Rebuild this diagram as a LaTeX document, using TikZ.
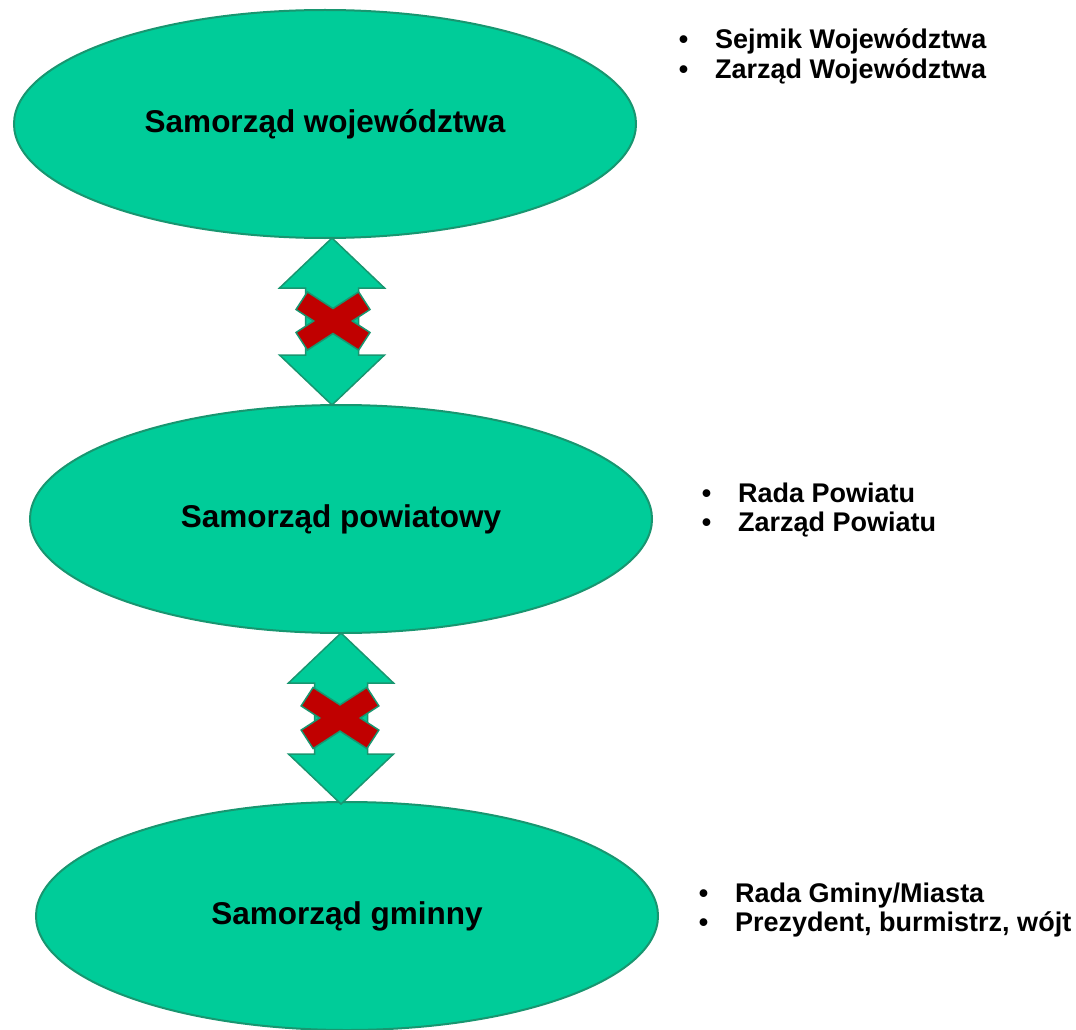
\documentclass[tikz,border=0pt]{standalone}
\usepackage{fontspec}
\setmainfont{Liberation Sans}
\usetikzlibrary{shapes.geometric,calc}
\definecolor{morski}{RGB}{0,204,153}
\definecolor{obrys}{RGB}{24,150,112}
\definecolor{krzyz}{RGB}{192,0,0}
\tikzset{x=1pt,y=-1pt,
  poziom/.style={ellipse,draw=obrys,line width=2pt,fill=morski,minimum width=622pt,minimum height=228pt,inner sep=0pt,font=\fontsize{31.5}{36}\selectfont\bfseries},
  organ/.style={anchor=base west,inner sep=0pt,font=\fontsize{27}{31}\selectfont\bfseries},
  strzalka/.style={draw=obrys,line width=1.5pt,fill=morski,line join=miter},
  zakaz/.style={draw=obrys,line width=1.5pt,fill=krzyz,line join=miter}}
\newcommand{\pkt}{\llap{\textbullet\hspace{27pt}}}
\newcommand{\dwustronna}[2]{%
  \draw[strzalka] (#1) -- ++(52.5,50) -- ++(-26,0) -- ($(#2)+(26.5,-50)$) -- ++(26,0) -- (#2)
    -- ++(-52.5,-50) -- ++(26,0) -- ($(#1)+(-26.5,50)$) -- ++(-26,0) -- cycle;}
\newcommand{\krzyzyk}[2]{%
  \draw[zakaz,shift={(#1)},scale=#2] (19.3,0) -- (37,11.5) -- (25.6,29.1) -- (0,12.5) -- (-25.6,29.1)
    -- (-37,11.5) -- (-19.3,0) -- (-37,-11.5) -- (-25.6,-29.1) -- (0,-12.5) -- (25.6,-29.1) -- (37,-11.5) -- cycle;}

\begin{document}
\begin{tikzpicture}
  \useasboundingbox (0,0) rectangle (1076,1030);

  \node[poziom] (woj) at (325,124) {Samorząd województwa};
  \node[poziom] (pow) at (341,519) {Samorząd powiatowy};
  \node[poziom] (gmi) at (347,916) {Samorząd gminny};

  \node[organ] (sejmik) at (715,49) {\pkt Sejmik Województwa};
  \node[organ] (zarzadw) at (715,79) {\pkt Zarząd Województwa};
  \node[organ] (rada) at (738,502) {\pkt Rada Powiatu};
  \node[organ] (zarzadp) at (738,531) {\pkt Zarząd Powiatu};
  \node[organ] (radag) at (735,902) {\pkt Rada Gminy/Miasta};
  \node[organ] (wojt) at (735,931) {\pkt Prezydent, burmistrz, wójt};

  \coordinate (g1) at (332,238);
  \coordinate (d1) at (332,405);
  \coordinate (g2) at (341,633);
  \coordinate (d2) at (341,804);
  \coordinate (k1) at (333,321);
  \coordinate (k2) at (340,718);

  \dwustronna{g1}{d1}
  \dwustronna{g2}{d2}
  \krzyzyk{k1}{1}
  \krzyzyk{k2}{1.05}
\end{tikzpicture}
\end{document}
